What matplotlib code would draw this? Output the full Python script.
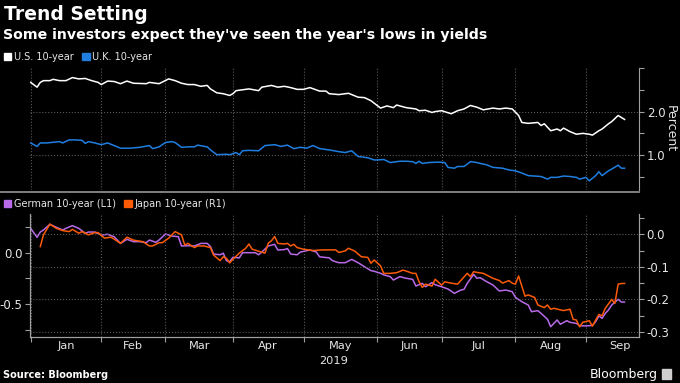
import matplotlib
matplotlib.use("Agg")
import matplotlib.pyplot as plt
import matplotlib.transforms as mtransforms
from matplotlib.patches import Patch
from matplotlib.lines import Line2D
import pandas as pd

# x values are business-day positions counted from 2 Jan 2019
us_day = [0, 2, 3, 4, 6, 7, 9, 11, 13, 15, 17, 19, 21, 22, 24, 26, 28, 30, 32, 36, 37, 40,
          43, 45, 47, 49, 51, 53, 55, 56, 58, 60, 62, 63, 64, 66, 68, 71, 72, 75, 77, 79,
          81, 83, 85, 87, 90, 92, 93, 96, 99, 102, 104, 106, 109, 111, 113, 114, 117, 120,
          121, 123, 125, 126, 128, 131, 133, 135, 137, 139, 141, 144, 146, 148, 150, 152,
          153, 155, 158, 159, 160, 162, 164, 165, 166, 168, 170, 172, 174, 175, 177, 178,
          180, 181, 183, 185]
us_yield = [2.67, 2.56, 2.67, 2.71, 2.71, 2.74, 2.71, 2.71, 2.78, 2.75, 2.76, 2.71, 2.67,
            2.62, 2.70, 2.69, 2.64, 2.70, 2.65, 2.64, 2.67, 2.64, 2.75, 2.71, 2.65, 2.62,
            2.62, 2.58, 2.60, 2.52, 2.43, 2.41, 2.37, 2.41, 2.48, 2.50, 2.52, 2.48, 2.56,
            2.60, 2.56, 2.58, 2.55, 2.51, 2.51, 2.55, 2.47, 2.47, 2.41, 2.39, 2.42, 2.33,
            2.32, 2.25, 2.08, 2.13, 2.09, 2.15, 2.09, 2.06, 2.02, 2.03, 1.98, 2.00, 2.02,
            1.95, 2.02, 2.06, 2.14, 2.10, 2.04, 2.08, 2.06, 2.08, 2.06, 1.91, 1.75, 1.73,
            1.75, 1.68, 1.72, 1.56, 1.60, 1.56, 1.62, 1.54, 1.48, 1.50, 1.48, 1.46, 1.56,
            1.60, 1.72, 1.77, 1.91, 1.82]

uk_day = [0, 2, 3, 5, 9, 10, 12, 14, 16, 17, 18, 20, 22, 24, 26, 28, 31, 34, 37, 38, 40,
          42, 44, 45, 47, 49, 51, 52, 55, 56, 58, 61, 62, 64, 65, 66, 68, 71, 73, 76, 78,
          80, 82, 84, 86, 88, 90, 93, 96, 98, 100, 102, 105, 107, 108, 110, 112, 115, 117,
          119, 120, 121, 122, 124, 127, 129, 130, 132, 133, 135, 137, 139, 140, 142, 144,
          147, 149, 151, 153, 155, 157, 159, 161, 162, 164, 166, 168, 170, 171, 173, 174,
          176, 177, 178, 180, 181, 183, 184, 185]
uk_yield = [1.28, 1.20, 1.28, 1.28, 1.31, 1.28, 1.35, 1.35, 1.34, 1.27, 1.31, 1.28, 1.24,
            1.28, 1.22, 1.16, 1.16, 1.18, 1.22, 1.15, 1.19, 1.29, 1.31, 1.29, 1.18, 1.19,
            1.19, 1.23, 1.19, 1.12, 1.01, 1.02, 1.01, 1.06, 1.01, 1.10, 1.11, 1.10, 1.22,
            1.24, 1.20, 1.23, 1.15, 1.18, 1.16, 1.22, 1.15, 1.12, 1.08, 1.06, 1.10, 0.97,
            0.94, 0.89, 0.89, 0.90, 0.83, 0.86, 0.86, 0.85, 0.81, 0.86, 0.81, 0.83, 0.84,
            0.83, 0.72, 0.70, 0.74, 0.74, 0.85, 0.83, 0.81, 0.78, 0.72, 0.70, 0.66, 0.64,
            0.59, 0.53, 0.52, 0.51, 0.45, 0.49, 0.49, 0.52, 0.51, 0.49, 0.45, 0.49, 0.41,
            0.53, 0.62, 0.53, 0.64, 0.68, 0.77, 0.70, 0.70]

de_day = [0, 2, 3, 4, 6, 8, 10, 11, 13, 15, 17, 18, 20, 22, 24, 26, 28, 30, 32, 34, 36,
          37, 39, 40, 42, 44, 46, 47, 49, 51, 53, 55, 56, 57, 59, 60, 61, 62, 63, 65, 66,
          68, 70, 71, 72, 74, 76, 77, 79, 80, 81, 83, 84, 87, 89, 90, 93, 94, 96, 98, 100,
          102, 104, 106, 107, 109, 110, 112, 113, 115, 117, 119, 120, 122, 123, 125, 126,
          128, 130, 132, 134, 135, 136, 138, 139, 140, 142, 144, 146, 148, 150, 151, 153,
          155, 156, 158, 159, 161, 162, 164, 165, 167, 168, 170, 171, 173, 175, 176, 177,
          178, 179, 180, 181, 183, 184, 185]
de_yield = [0.236, 0.149, 0.20, 0.22, 0.275, 0.246, 0.22, 0.236, 0.262, 0.236, 0.188,
            0.20, 0.20, 0.171, 0.178, 0.155, 0.09, 0.13, 0.107, 0.107, 0.097, 0.123, 0.10,
            0.123, 0.181, 0.162, 0.155, 0.065, 0.068, 0.065, 0.09, 0.09, 0.06, -0.013,
            -0.02, -0.005, -0.077, -0.087, -0.045, -0.05, 0.0, 0.0, 0.0, -0.02, 0.006,
            0.065, 0.081, 0.026, 0.03, 0.04, -0.013, -0.02, 0.006, 0.026, 0.006, -0.04,
            -0.05, -0.077, -0.097, -0.097, -0.065, -0.097, -0.136, -0.174, -0.18, -0.20,
            -0.215, -0.232, -0.265, -0.232, -0.248, -0.258, -0.323, -0.297, -0.33, -0.29,
            -0.31, -0.33, -0.352, -0.394, -0.362, -0.355, -0.297, -0.21, -0.248, -0.242,
            -0.28, -0.313, -0.371, -0.362, -0.378, -0.432, -0.475, -0.507, -0.572, -0.562,
            -0.588, -0.645, -0.717, -0.652, -0.694, -0.659, -0.675, -0.685, -0.707, -0.71,
            -0.704, -0.668, -0.613, -0.636, -0.588, -0.555, -0.507, -0.452, -0.478, -0.478]

jp_day = [3, 4, 6, 8, 10, 12, 13, 15, 16, 18, 20, 21, 23, 25, 26, 28, 30, 32, 35, 37, 38,
          40, 41, 43, 45, 47, 48, 49, 51, 52, 54, 56, 57, 59, 60, 61, 62, 63, 65, 67, 68,
          69, 71, 73, 74, 75, 76, 77, 79, 80, 81, 82, 83, 85, 88, 91, 93, 95, 96, 98, 99,
          101, 103, 105, 106, 107, 109, 110, 112, 114, 116, 117, 119, 120, 121, 122, 123,
          125, 126, 128, 129, 131, 133, 134, 136, 137, 138, 139, 141, 143, 144, 146, 147,
          149, 150, 151, 152, 153, 154, 155, 157, 158, 160, 161, 162, 163, 165, 166, 168,
          169, 170, 171, 172, 174, 175, 176, 177, 178, 179, 181, 182, 183, 184, 185]
jp_yield = [-0.038, -0.002, 0.031, 0.018, 0.011, 0.008, 0.015, 0.003, 0.008, -0.002, 0.005,
            0.005, -0.012, -0.009, -0.015, -0.028, -0.009, -0.018, -0.023, -0.036, -0.036,
            -0.026, -0.026, -0.012, 0.008, -0.002, -0.033, -0.028, -0.041, -0.036, -0.036,
            -0.041, -0.064, -0.081, -0.069, -0.074, -0.088, -0.077, -0.058, -0.043, -0.03,
            -0.046, -0.052, -0.058, -0.028, -0.02, -0.007, -0.028, -0.03, -0.028, -0.036,
            -0.031, -0.041, -0.046, -0.05, -0.048, -0.048, -0.048, -0.056, -0.051, -0.043,
            -0.052, -0.069, -0.071, -0.089, -0.079, -0.097, -0.12, -0.12, -0.118, -0.11,
            -0.113, -0.12, -0.12, -0.146, -0.163, -0.153, -0.159, -0.138, -0.156, -0.146,
            -0.15, -0.153, -0.142, -0.12, -0.13, -0.115, -0.117, -0.12, -0.13, -0.135,
            -0.142, -0.15, -0.142, -0.15, -0.153, -0.128, -0.159, -0.19, -0.186, -0.194,
            -0.217, -0.225, -0.217, -0.23, -0.227, -0.232, -0.234, -0.23, -0.261, -0.263,
            -0.284, -0.27, -0.265, -0.282, -0.263, -0.246, -0.25, -0.227, -0.2, -0.212,
            -0.153, -0.151, -0.151]

month_names = ["Jan", "Feb", "Mar", "Apr", "May", "Jun", "Jul", "Aug", "Sep"]

# month boundaries on the business-day axis
days = pd.bdate_range("2019-01-02", "2019-09-30")
month_start = [0] + [i for i in range(1, len(days)) if days[i].month != days[i - 1].month]
month_mid = [(a + b) / 2 for a, b in zip(month_start, month_start[1:] + [len(days)])]

BG = "black"
GRID = "#5a5a5a"
SPINE = "#a0a0a0"
TXT = "#e6e6e6"
US_C, UK_C = "white", "#1f7ee0"
DE_C, JP_C = "#b86ae8", "#fb5a07"

plt.rcParams["font.family"] = "DejaVu Sans"
fig = plt.figure(figsize=(6.8, 3.83), dpi=100, facecolor=BG)
W, H = 680, 383

def box(l, t, r, b):
    return [l / W, 1 - b / H, (r - l) / W, (b - t) / H]

xlim = (-0.2, 189.5)

# top panel: US / UK
ax1 = fig.add_axes(box(30, 68, 639, 190))
ax1.set_facecolor(BG)
ax1.plot(us_day, us_yield, color=US_C, lw=1.1)
ax1.plot(uk_day, uk_yield, color=UK_C, lw=1.1)
ax1.set_xlim(*xlim)
ax1.set_ylim(0.2, 3.0)
ax1.yaxis.tick_right()
ax1.set_yticks([1.0, 2.0])
ax1.set_yticklabels(["1.0", "2.0"])
ax1.set_yticks([0.5, 1.5, 2.5, 3.0], minor=True)
ax1.set_xticks(month_start)
ax1.set_xticklabels([])
ax1.tick_params(axis="x", length=0)
ax1.tick_params(axis="y", which="both", colors=SPINE, labelcolor=TXT, labelsize=8.5,
                length=3.5, width=0.8, pad=2)
ax1.grid(True, which="major", color=GRID, linestyle=":", linewidth=0.8)
for s in ["top", "left", "bottom"]:
    ax1.spines[s].set_visible(False)
ax1.spines["right"].set_color(SPINE)
fig.text(670 / W, 1 - 129 / H, "Percent", color=TXT, fontsize=9, rotation=270,
         ha="center", va="center")

# bottom panel: Germany (left) / Japan (right)
ax2 = fig.add_axes(box(30, 214, 639, 337.3))
ax2.set_facecolor(BG)
ax2.plot(de_day, de_yield, color=DE_C, lw=1.1)
ax2.set_xlim(*xlim)
ax2.set_ylim(-0.82, 0.375)
ax2.set_yticks([-0.5, 0.0])
ax2.set_yticklabels(["-0.5", "0.0"])
ax2.set_yticks([-0.75, -0.25, 0.25], minor=True)
ax2.set_xticks(month_start)
ax2.set_xticklabels([])
ax2.set_xticks(month_mid, minor=True)
ax2.set_xticklabels(month_names, minor=True)
ax2.tick_params(axis="x", which="major", colors=SPINE, length=3.5, width=0.8)
ax2.tick_params(axis="x", which="minor", length=0, labelcolor=TXT, labelsize=8.2, pad=2.5)
ax2.tick_params(axis="y", which="both", colors=SPINE, labelcolor=TXT, labelsize=8.5,
                length=3.5, width=0.8, pad=2)
ax2.grid(True, axis="x", which="major", color=GRID, linestyle=":", linewidth=0.8)
ax2.spines["top"].set_visible(False)
for s in ["left", "bottom", "right"]:
    ax2.spines[s].set_color(SPINE)
year_tf = mtransforms.blended_transform_factory(ax2.transData, fig.transFigure)
ax2.text(94.4, 1 - 360.5 / H, "2019", color=TXT, fontsize=8.2, ha="center", va="center",
         transform=year_tf)

ax3 = ax2.twinx()
ax3.plot(jp_day, jp_yield, color=JP_C, lw=1.1)
ax3.set_ylim(-0.316, 0.062)
ax3.set_yticks([-0.3, -0.2, -0.1, 0.0])
ax3.set_yticklabels(["-0.3", "-0.2", "-0.1", "0.0"])
ax3.set_yticks([-0.25, -0.15, -0.05, 0.05], minor=True)
ax3.tick_params(axis="y", which="both", colors=SPINE, labelcolor=TXT, labelsize=8.5,
                length=3.5, width=0.8, pad=2)
ax3.grid(True, axis="y", which="major", color=GRID, linestyle=":", linewidth=0.8)
ax3.spines["top"].set_visible(False)
for s in ["left", "bottom", "right"]:
    ax3.spines[s].set_color(SPINE)

# separator between panels
fig.add_artist(Line2D([0, 639 / W], [1 - 191.7 / H] * 2, color="#8a8a8a", lw=1.3))

# legends
leg_kw = dict(frameon=False, ncol=2, handlelength=0.75, handleheight=0.75,
              handletextpad=0.25, columnspacing=0.9, fontsize=7, labelcolor=TXT,
              loc="center left", bbox_transform=fig.transFigure, borderaxespad=0,
              borderpad=0)
fig.legend(handles=[Patch(color=US_C, label="U.S. 10-year"),
                    Patch(color=UK_C, label="U.K. 10-year")],
           bbox_to_anchor=(4 / W, 1 - 57 / H), **leg_kw)
fig.legend(handles=[Patch(color=DE_C, label="German 10-year (L1)"),
                    Patch(color=JP_C, label="Japan 10-year (R1)")],
           bbox_to_anchor=(4 / W, 1 - 204 / H), **leg_kw)

# titles and footer
fig.text(4 / W, 1 - 20.5 / H, "Trend Setting", color="white", fontsize=13.5,
         fontweight="bold", va="baseline")
fig.text(3 / W, 1 - 38.5 / H, "Some investors expect they've seen the year's lows in yields",
         color="white", fontsize=10.2, fontweight="bold", va="baseline")
fig.text(3 / W, 1 - 378 / H, "Source: Bloomberg", color="white", fontsize=7,
         fontweight="bold", va="baseline")
fig.text(658 / W, 1 - 378 / H, "Bloomberg", color="white", fontsize=9,
         ha="right", va="baseline")
fig.patches.append(plt.Rectangle((662 / W, 1 - 379 / H), 9 / W, 10 / H,
                                 transform=fig.transFigure, color="#cfcfcf"))

fig.savefig("out.png", dpi=100, facecolor=BG)
